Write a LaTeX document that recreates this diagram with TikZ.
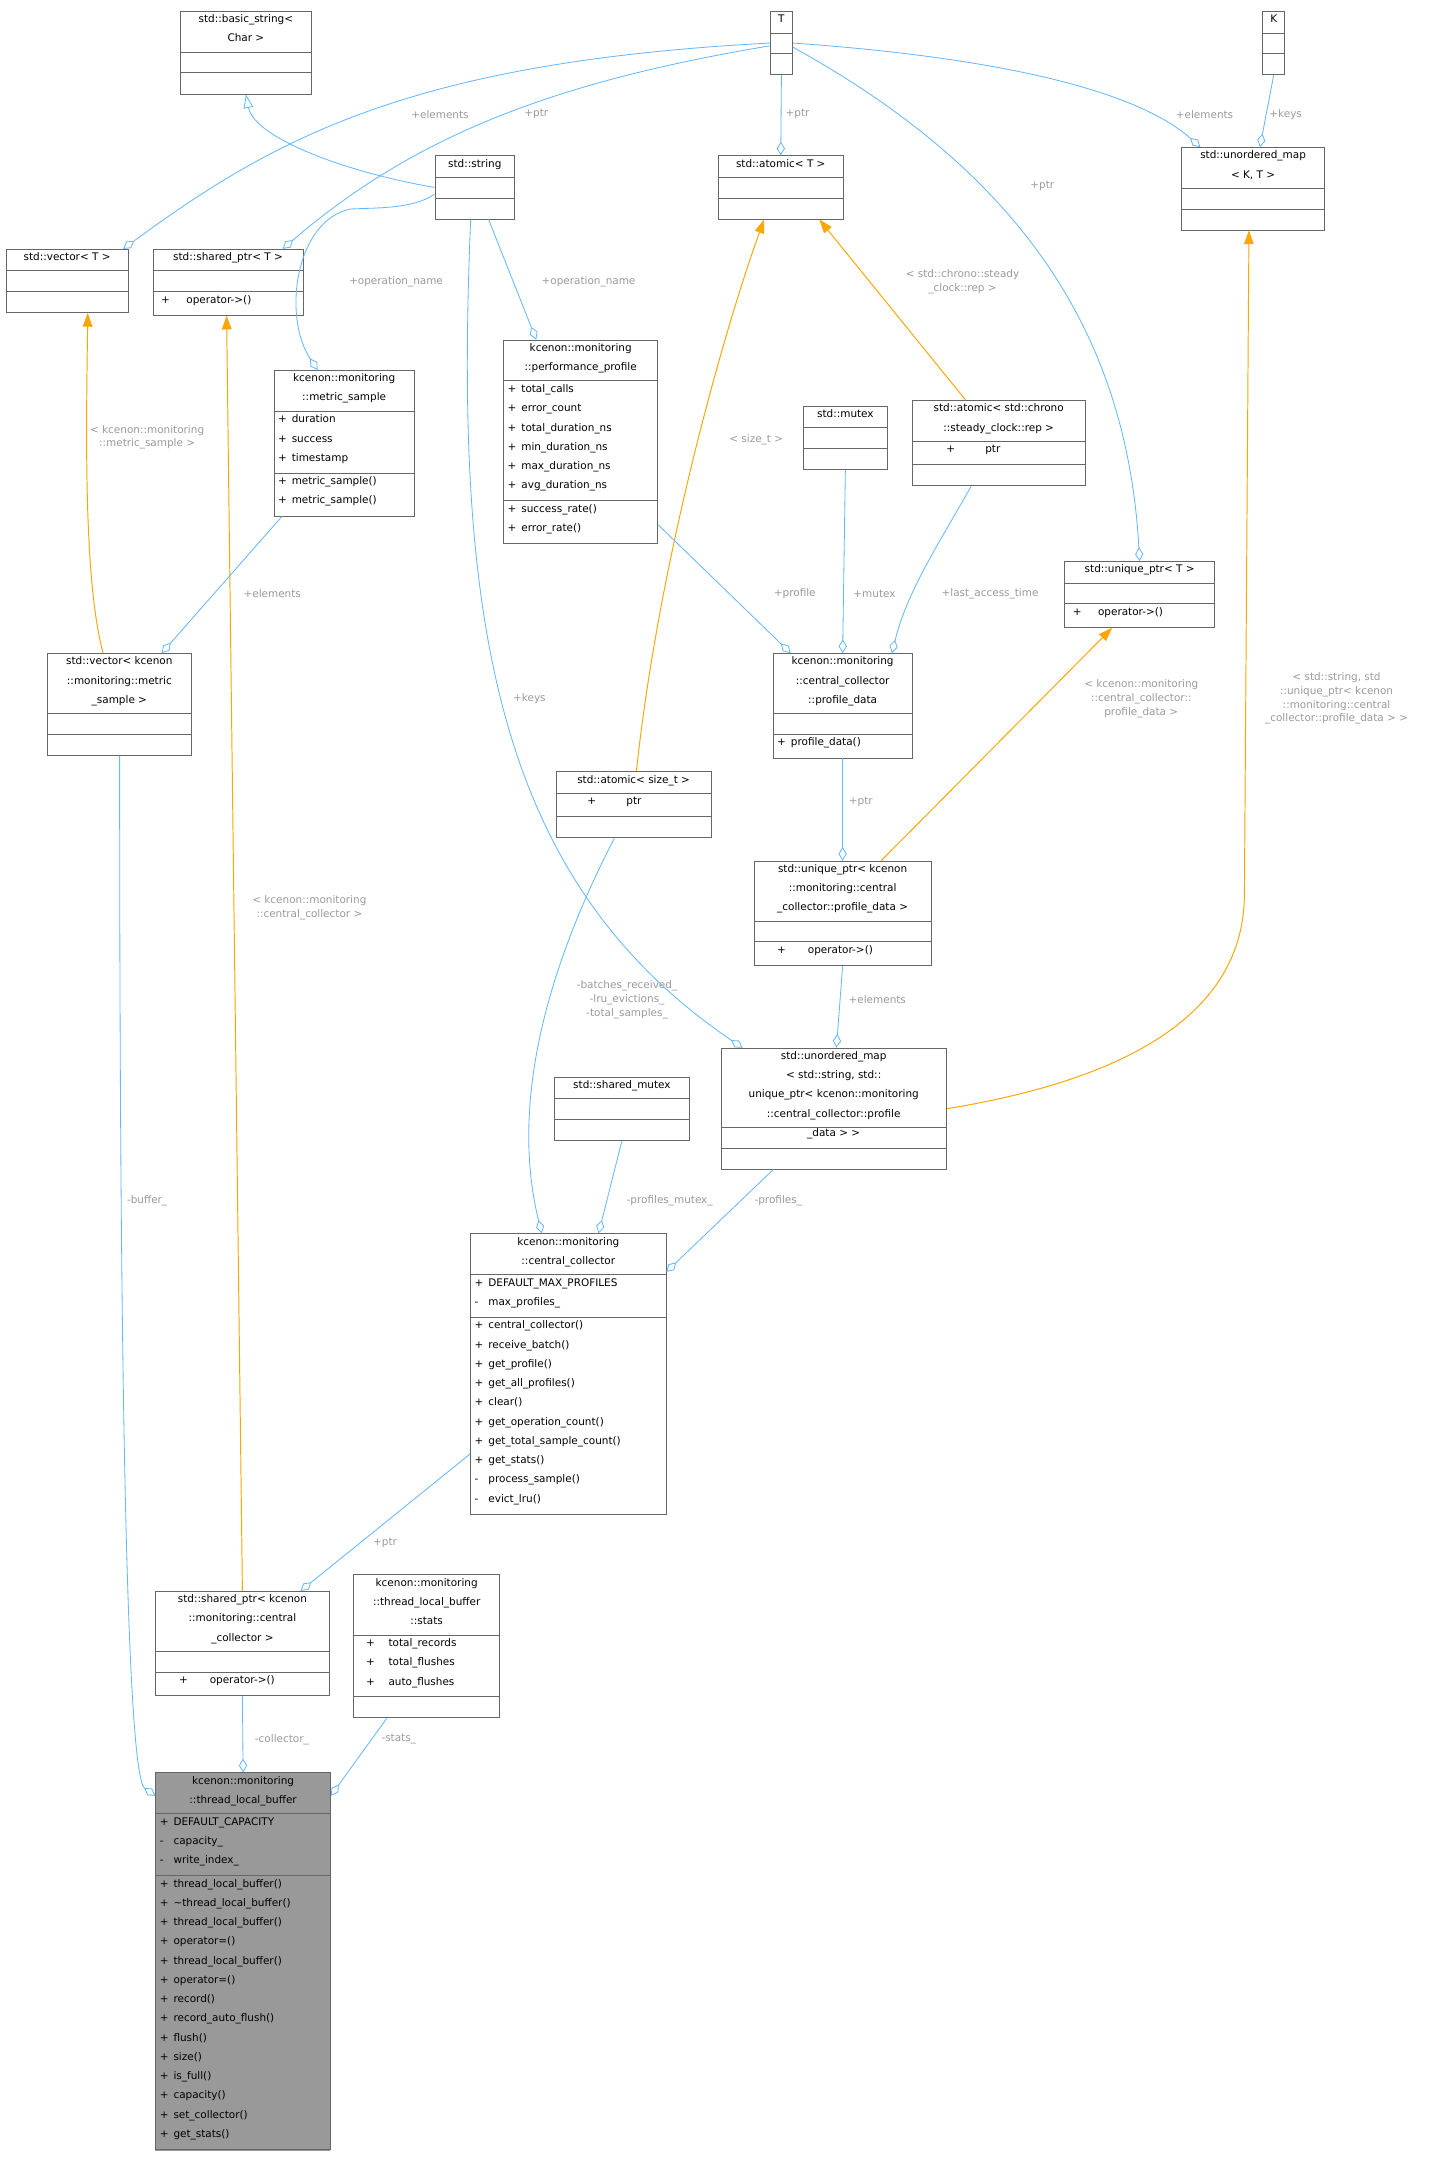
\documentclass[tikz,border=0pt]{standalone}
\usepackage{fontspec}
\setmainfont{DejaVu Sans}
\usetikzlibrary{arrows.meta,calc}
\definecolor{eblue}{HTML}{63B8FF}
\definecolor{eorange}{HTML}{FFA500}
\definecolor{lgray}{HTML}{9A9A9A}
\definecolor{bgray}{HTML}{666666}
\definecolor{tfill}{HTML}{999999}
\newcommand\pp{\makebox[10pt][l]{+}}
\newcommand\mm{\makebox[10pt][l]{-}}
\newcommand\uattrs{}
\newcommand\ubox[8]{%
 \pgfmathsetmacro\ha{14*#4+2}%
 \pgfmathsetmacro\hb{#5>0 ? 14*#5+3 : 15}%
 \pgfmathsetmacro\hc{#6>0 ? 14*#6+3 : 15}%
 \pgfmathsetmacro\htot{\ha+\hb+\hc}%
 \pgfmathsetmacro\hab{\ha+\hb}%
 \node[box, minimum width=#3pt, minimum height=\htot pt, anchor=north west] (#1) at (#2) {};
 \draw[box] ($(#1.north west)+(0,\ha)$) -- ++(#3,0);
 \draw[box] ($(#1.north west)+(0,\hab)$) -- ++(#3,0);
 \node[txt, anchor=north, align=center] (#1-t) at (#1.north) {#7};
 \node[txt, anchor=north west, align=left] (#1-a) at ($(#1.north west)+(0,\ha)$) {\uattrs};
 \node[txt, anchor=north west, align=left] (#1-m) at ($(#1.north west)+(0,\hab)$) {#8};
}
\begin{document}
\begin{tikzpicture}[x=1pt,y=-1pt,
 box/.style={draw=bgray, line width=0.6pt, inner sep=0pt},
 txt/.style={font=\fontsize{7.6}{14}\selectfont, inner xsep=3pt, inner ysep=2.5pt},
 lab/.style={font=\fontsize{7.6}{10}\selectfont, text=lgray, align=center, inner sep=1pt},
 agg/.style={draw=eblue, line width=0.6pt, -{Diamond[open,length=10pt,width=6pt]}},
 inh/.style={draw=eblue, line width=0.6pt, -{Triangle[open,length=10pt,width=7pt]}},
 tpl/.style={draw=eorange, line width=0.7pt, -{Triangle[length=10pt,width=7pt,fill=eorange]}}]
\useasboundingbox[fill=white] (0,0) rectangle (1040,1571.6);
\fill[tfill] (113,1289) rectangle (240,1564);

\renewcommand\uattrs{}
\ubox{bstr}{131,8}{95}{2}{0}{0}{std::basic\_string<\\Char >}{}
\ubox{T}{560,8}{16}{1}{0}{0}{T}{}
\ubox{K}{918,8}{16}{1}{0}{0}{K}{}
\ubox{str}{316,113}{58}{1}{0}{0}{std::string}{}
\ubox{atom}{522,113}{91}{1}{0}{0}{std::atomic< T >}{}
\ubox{umKT}{859,107}{104}{2}{0}{0}{std::unordered\_map\\< K, T >}{}
\ubox{vec}{4,181}{89}{1}{0}{0}{std::vector< T >}{}
\ubox{sp}{111,181}{109}{1}{0}{1}{std::shared\_ptr< T >}{\hspace{3pt}+\hspace{12pt}operator->()}
\renewcommand\uattrs{\pp duration\\\pp success\\\pp timestamp}
\ubox{ms}{199,269}{102}{2}{3}{2}{kcenon::monitoring\\::metric\_sample}{\pp metric\_sample()\\\pp metric\_sample()}
\renewcommand\uattrs{\pp total\_calls\\\pp error\_count\\\pp total\_duration\_ns\\\pp min\_duration\_ns\\\pp max\_duration\_ns\\\pp avg\_duration\_ns}
\ubox{perf}{366,247}{112}{2}{6}{2}{kcenon::monitoring\\::performance\_profile}{\pp success\_rate()\\\pp error\_rate()}
\renewcommand\uattrs{}
\ubox{mutex}{584,295}{61}{1}{0}{0}{std::mutex}{}
\renewcommand\uattrs{\hspace{22pt}+\hspace{22pt}ptr}
\ubox{chrono}{663,291}{126}{2}{1}{0}{std::atomic< std::chrono\\::steady\_clock::rep >}{}
\renewcommand\uattrs{}
\ubox{uniq}{774,408}{109}{1}{0}{1}{std::unique\_ptr< T >}{\hspace{3pt}+\hspace{12pt}operator->()}
\ubox{vecms}{34,475}{105}{3}{0}{0}{std::vector< kcenon\\::monitoring::metric\\\_sample >}{}
\ubox{pd}{562,475}{101}{3}{0}{1}{kcenon::monitoring\\::central\_collector\\::profile\_data}{\pp profile\_data()}
\renewcommand\uattrs{\hspace{20pt}+\hspace{22pt}ptr}
\ubox{atsz}{404,561}{113}{1}{1}{0}{std::atomic< size\_t >}{}
\renewcommand\uattrs{}
\ubox{upd}{548,626}{129}{3}{0}{1}{std::unique\_ptr< kcenon\\::monitoring::central\\\_collector::profile\_data >}{\hspace{14pt}+\hspace{16pt}operator->()}
\ubox{ums}{524,762}{164}{4}{0}{0}{std::unordered\_map\\< std::string, std::\\unique\_ptr< kcenon::monitoring\\::central\_collector::profile\\\_data > >}{}
\ubox{smx}{403,783}{98}{1}{0}{0}{std::shared\_mutex}{}
\renewcommand\uattrs{\pp DEFAULT\_MAX\_PROFILES\\\mm max\_profiles\_}
\ubox{cc}{342,897}{142}{2}{2}{10}{kcenon::monitoring\\::central\_collector}{\pp central\_collector()\\\pp receive\_batch()\\\pp get\_profile()\\\pp get\_all\_profiles()\\\pp clear()\\\pp get\_operation\_count()\\\pp get\_total\_sample\_count()\\\pp get\_stats()\\\mm process\_sample()\\\mm evict\_lru()}
\renewcommand\uattrs{}
\ubox{spcc}{113,1157}{126}{3}{0}{1}{std::shared\_ptr< kcenon\\::monitoring::central\\\_collector >}{\hspace{14pt}+\hspace{16pt}operator->()}
\renewcommand\uattrs{\hspace{6pt}+\hspace{10pt}total\_records\\\hspace{6pt}+\hspace{10pt}total\_flushes\\\hspace{6pt}+\hspace{10pt}auto\_flushes}
\ubox{stats}{257,1145}{106}{3}{3}{0}{kcenon::monitoring\\::thread\_local\_buffer\\::stats}{}
\renewcommand\uattrs{\pp DEFAULT\_CAPACITY\\\mm capacity\_\\\mm write\_index\_}
\ubox{tlb}{113,1289}{127}{2}{3}{14}{kcenon::monitoring\\::thread\_local\_buffer}{\pp thread\_local\_buffer()\\\pp \textasciitilde thread\_local\_buffer()\\\pp thread\_local\_buffer()\\\pp operator=()\\\pp thread\_local\_buffer()\\\pp operator=()\\\pp record()\\\pp record\_auto\_flush()\\\pp flush()\\\pp size()\\\pp is\_full()\\\pp capacity()\\\pp set\_collector()\\\pp get\_stats()}

% edges
\draw[inh] (str.west) .. controls (250,125) and (185,100) .. (bstr.south);
\draw[agg] (T.west) .. controls (300,45) and (200,100) .. ($(vec.north east)+(-4,0)$);
\draw[agg] ($(T.west)+(0,2)$) .. controls (400,60) and (300,100) .. ($(sp.north east)+(-15,0)$);
\draw[agg] (T.south) -- (atom.north);
\draw[agg] ($(T.east)+(0,3)$) .. controls (750,130) and (820,250) .. (uniq.north);
\draw[agg] (T.east) .. controls (700,40) and (820,60) .. ($(umKT.north west)+(14,0)$);
\draw[agg] (K.south) -- ($(umKT.north)+(5,0)$);
\draw[agg] ($(str.west)+(0,5)$) .. controls (300,152) and (275,151) .. (255,152) .. controls (215,160) and (205,230) .. ($(ms.north west)+(32,0)$);
\draw[agg] ($(str.south)+(10,0)$) -- ($(perf.north west)+(24,0)$);
\draw[agg] ($(str.south)+(-3,0)$) .. controls (330,450) and (360,640) .. ($(ums.north west)+(16,0)$);
\draw[tpl] ($(vecms.north west)+(41,0)$) .. controls (60,420) and (63,300) .. ($(vec.south)+(15,0)$);
\draw[tpl] (spcc.north) -- ($(sp.south)+(-1,0)$);
\draw[tpl] ($(atsz.north)+(2,0)$) .. controls (480,400) and (530,230) .. ($(atom.south)+(-12,0)$);
\draw[tpl] ($(chrono.north)+(-24,0)$) -- ($(atom.south)+(28,0)$);
\draw[tpl] (ums.east) .. controls (850,780) and (905,720) .. (905,650) -- ($(umKT.south)+(-3,0)$);
\draw[tpl] ($(upd.north)+(28,0)$) -- ($(uniq.south)+(-20,0)$);
\draw[agg] ($(ms.south west)+(6,0)$) -- ($(vecms.north east)+(-22,0)$);
\draw[agg] ($(perf.south east)+(0,-14)$) -- ($(pd.north west)+(13,0)$);
\draw[agg] (mutex.south) -- (pd.north);
\draw[agg] ($(chrono.south)+(-20,0)$) .. controls (680,400) and (660,430) .. ($(pd.north east)+(-15,0)$);
\draw[agg] (pd.south) -- (upd.north);
\draw[agg] (upd.south) -- ($(ums.north)+(2,0)$);
\draw[agg] ($(atsz.south)+(-14,0)$) .. controls (400,700) and (370,800) .. ($(cc.north west)+(52,0)$);
\draw[agg] (smx.south) -- ($(cc.north)+(22,0)$);
\draw[agg] ($(ums.south)+(-44,0)$) -- ($(cc.north east)+(0,28)$);
\draw[agg] ($(cc.west)+(0,58)$) -- ($(spcc.north east)+(-21,0)$);
\draw[agg] ($(vecms.south west)+(53,0)$) .. controls (87,900) and (90,1290) .. ($(tlb.north west)+(0,17)$);
\draw[agg] (spcc.south) -- (tlb.north);
\draw[agg] ($(stats.south)+(-29,0)$) -- ($(tlb.north east)+(0,17)$);

% labels
\node[lab] (l1) at (320,83) {+elements};
\node[lab] (l2) at (390,83) {+ptr};
\node[lab] (l3) at (580,83) {+ptr};
\node[lab] (l4) at (758,135) {+ptr};
\node[lab] (l5) at (876,83) {+elements};
\node[lab] (l6) at (935,83) {+keys};
\node[lab] (l7) at (288,205) {+operation\_name};
\node[lab] (l8) at (428,205) {+operation\_name};
\node[lab] (l9) at (385,508) {+keys};
\node[lab] (l10) at (107,318) {< kcenon::monitoring\\::metric\_sample >};
\node[lab] (l11) at (225,660) {< kcenon::monitoring\\::central\_collector >};
\node[lab] (l12) at (550,320) {< size\_t >};
\node[lab] (l13) at (700,205) {< std::chrono::steady\\\_clock::rep >};
\node[lab] (l14) at (972,508) {< std::string, std\\::unique\_ptr< kcenon\\::monitoring::central\\\_collector::profile\_data > >};
\node[lab] (l15) at (830,508) {< kcenon::monitoring\\::central\_collector::\\profile\_data >};
\node[lab] (l16) at (198,432) {+elements};
\node[lab] (l17) at (578,432) {+profile};
\node[lab] (l18) at (636,432) {+mutex};
\node[lab] (l19) at (720,432) {+last\_access\_time};
\node[lab] (l20) at (626,583) {+ptr};
\node[lab] (l21) at (638,727) {+elements};
\node[lab] (l22) at (456,727) {-batches\_received\_\\-lru\_evictions\_\\-total\_samples\_};
\node[lab] (l23) at (487,873) {-profiles\_mutex\_};
\node[lab] (l24) at (566,873) {-profiles\_};
\node[lab] (l25) at (280,1122) {+ptr};
\node[lab] (l26) at (107,873) {-buffer\_};
\node[lab] (l27) at (205,1265) {-collector\_};
\node[lab] (l28) at (290,1265) {-stats\_};
\end{tikzpicture}
\end{document}
